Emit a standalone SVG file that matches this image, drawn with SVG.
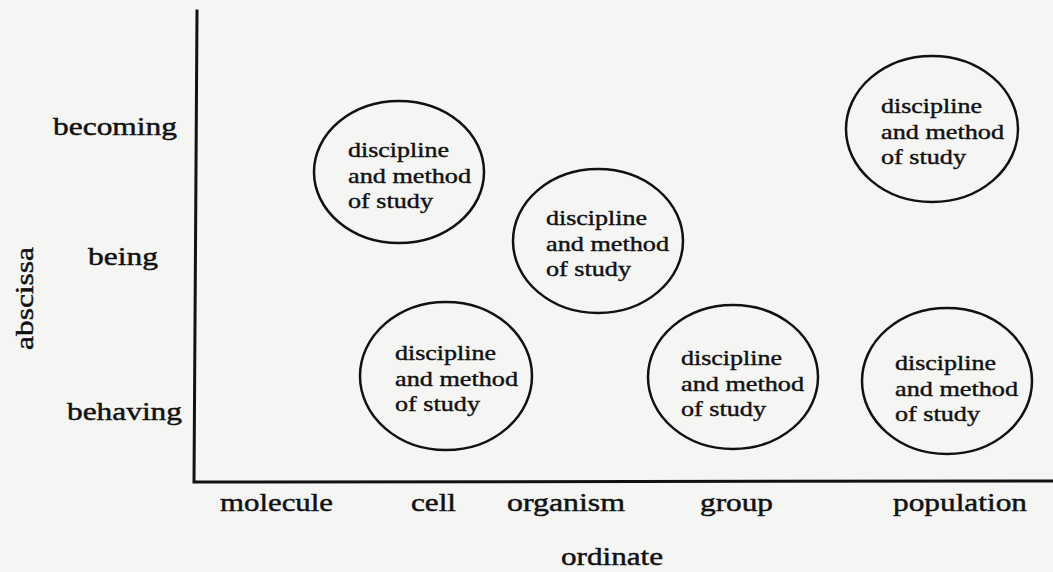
<svg xmlns="http://www.w3.org/2000/svg" width="1053" height="572" viewBox="0 0 1053 572">
  <style>
    .bg { fill: #f5f5f4; }
    .axis { stroke: #111; stroke-width: 3; fill: none; stroke-linecap: square; }
    .oval { fill: none; stroke: #111; stroke-width: 2.5; }
    .lbl { font-family: "Liberation Serif", "Times New Roman", serif; font-size: 25px; fill: #111; stroke: #111; stroke-width: 0.45; }
    .in { font-family: "Liberation Serif", "Times New Roman", serif; font-size: 21px; fill: #111; stroke: #111; stroke-width: 0.4; }
  </style>
  <defs>
    <!-- three-line label used inside every oval, origin at first baseline -->
    <g id="dm">
      <text class="in" x="0" y="0" textLength="101" lengthAdjust="spacingAndGlyphs">discipline</text>
      <text class="in" x="0" y="26" textLength="123" lengthAdjust="spacingAndGlyphs">and method</text>
      <text class="in" x="0" y="51" textLength="85" lengthAdjust="spacingAndGlyphs">of study</text>
    </g>
  </defs>

  <rect class="bg" x="0" y="0" width="1053" height="572"/>

  <!-- axes -->
  <g id="axes">
    <polyline class="axis" points="197,11 194,482 1053,481"/>
  </g>

  <!-- axis titles and category labels -->
  <g id="labels">
    <text class="lbl" x="53" y="135" textLength="124" lengthAdjust="spacingAndGlyphs">becoming</text>
    <text class="lbl" x="88" y="265" textLength="70" lengthAdjust="spacingAndGlyphs">being</text>
    <text class="lbl" x="67" y="420" textLength="115" lengthAdjust="spacingAndGlyphs">behaving</text>
    <text class="lbl" x="220" y="511" textLength="113" lengthAdjust="spacingAndGlyphs">molecule</text>
    <text class="lbl" x="411" y="511" textLength="45" lengthAdjust="spacingAndGlyphs">cell</text>
    <text class="lbl" x="507" y="511" textLength="118" lengthAdjust="spacingAndGlyphs">organism</text>
    <text class="lbl" x="700" y="511" textLength="73" lengthAdjust="spacingAndGlyphs">group</text>
    <text class="lbl" x="893" y="511" textLength="134" lengthAdjust="spacingAndGlyphs">population</text>
    <text class="lbl" x="561" y="565" textLength="102" lengthAdjust="spacingAndGlyphs">ordinate</text>
    <text class="lbl" transform="translate(33,350) rotate(-90)" x="0" y="0" textLength="103" lengthAdjust="spacingAndGlyphs">abscissa</text>
  </g>

  <!-- discipline ovals -->
  <g id="node-cell-becoming">
    <ellipse class="oval" cx="399" cy="172" rx="85" ry="71"/>
    <use href="#dm" x="348" y="157"/>
  </g>
  <g id="node-population-becoming">
    <ellipse class="oval" cx="932" cy="129" rx="86" ry="73"/>
    <use href="#dm" x="881" y="113"/>
  </g>
  <g id="node-organism-being">
    <ellipse class="oval" cx="598" cy="241" rx="85" ry="72"/>
    <use href="#dm" x="546" y="225"/>
  </g>
  <g id="node-cell-behaving">
    <ellipse class="oval" cx="446" cy="376" rx="86" ry="74"/>
    <use href="#dm" x="395" y="360"/>
  </g>
  <g id="node-group-behaving">
    <ellipse class="oval" cx="733" cy="377" rx="85" ry="72"/>
    <use href="#dm" x="681" y="365"/>
  </g>
  <g id="node-population-behaving">
    <ellipse class="oval" cx="947" cy="381" rx="85" ry="73"/>
    <use href="#dm" x="895" y="370"/>
  </g>

  <!-- no connectors in this chart -->
  <g id="connectors"/>
</svg>
